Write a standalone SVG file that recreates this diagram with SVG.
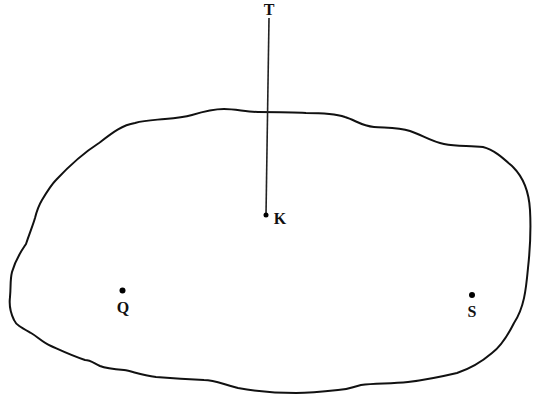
<svg xmlns="http://www.w3.org/2000/svg" width="533" height="398" viewBox="0 0 533 398">
<style>
.outline{fill:none;stroke:#111;stroke-width:2;stroke-linejoin:round}
.conn{stroke:#222;stroke-width:1.6;fill:none}
.dot{fill:#000}
.lbl{font-family:"Liberation Serif",serif;font-weight:bold;font-size:16px;fill:#111;text-anchor:middle}
</style>
<rect width="533" height="398" fill="#fff"/>
<path class="outline" d="M42,200 C48,190 52,184 56,180 C70,165 85,152 99,143 C112,133 122,125 135,123 C145,120 155,120 165,119 C178,118 185,117 192,115 C205,111 214,109 224,109 C236,109 246,112 258,112 C275,112 292,112 306,113 C322,113 336,114 345,117 C355,120 362,126 374,127 C385,128 398,127 410,131 C422,135 432,142 444,144 C458,147 470,145 483,147 C495,150 505,160 513,167 C524,178 529,192 530,210 C531,228 530,250 528,268 C526,290 524,308 514,323 C508,335 500,347 492,353 C478,365 466,370 457,373 C440,377 425,380 408,382 C390,384 375,383 361,385 C352,387 348,390 338,390 C320,392 305,393 296,393 C275,393 255,391 238,388 C222,384 215,380 204,380 C185,379 170,378 156,377 C140,375 132,371 124,370 C112,369 105,368 100,366 C92,362 90,360 85,360 C70,355 60,350 51,346 C42,342 38,337 31,333 C22,328 16,325 14,320 C10,312 9,305 10,297 C11,286 10,280 12,272 C16,258 22,250 26,244 C30,232 33,225 35,218 C37,210 39,205 42,200 Z"/>
<g id="connectors">
<line class="conn" x1="269" y1="18" x2="266" y2="215"/>
</g>
<g id="T"><text class="lbl" x="269" y="15">T</text></g>
<g id="K"><circle class="dot" cx="266" cy="215" r="2.5"/><text class="lbl" x="280" y="224">K</text></g>
<g id="Q"><circle class="dot" cx="122.5" cy="290.5" r="3"/><text class="lbl" x="123" y="313">Q</text></g>
<g id="S"><circle class="dot" cx="472" cy="295" r="3"/><text class="lbl" x="472" y="317">S</text></g>
</svg>
